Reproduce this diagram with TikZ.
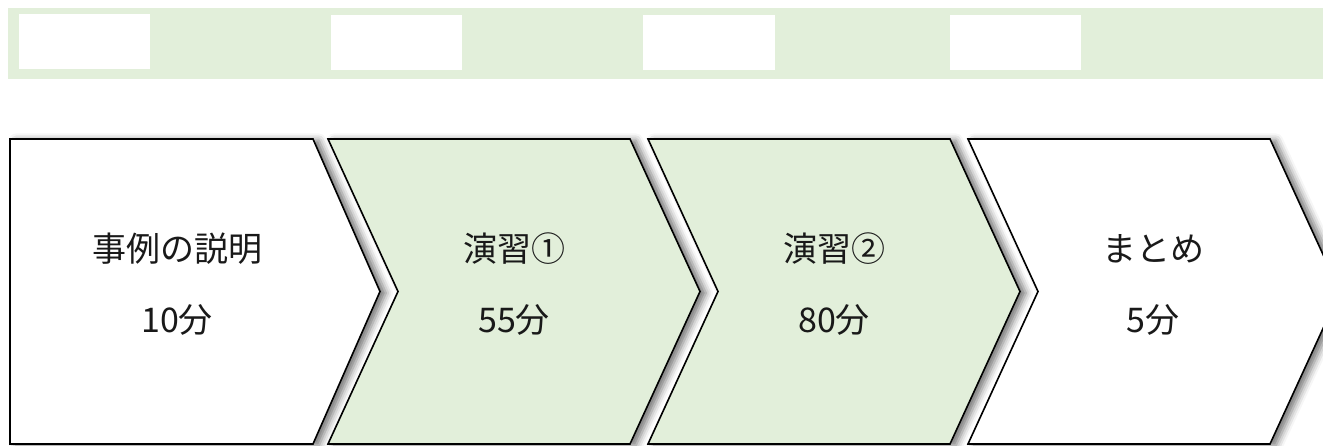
\documentclass[tikz,border=0pt]{standalone}
\usepackage{fontspec}
\newfontfamily\jpfont{Noto Sans CJK JP}
\usetikzlibrary{shadows.blur}
\definecolor{bandgreen}{HTML}{E2EFDA}
\tikzset{
  stage/.style={draw=black, line width=1.6pt, line join=miter,
    blur shadow={shadow xshift=6pt, shadow yshift=-1.5pt,
      shadow blur radius=7pt, shadow opacity=55}},
  stagetext/.style={anchor=base, text=black!90, inner sep=0pt}
}
\begin{document}
\begin{tikzpicture}[x=1pt, y=1pt]
            \useasboundingbox (0,0) rectangle (1323,446);%

            % Drawing band at top
            \fill [bandgreen] (8,367) rectangle (1323,438);%

            % Drawing blank boxes in band
            \fill [white] (19,377) rectangle (150,432);%
            \fill [white] (331,376) rectangle (462,431);%
            \fill [white] (643,376) rectangle (775,431);%
            \fill [white] (950,376) rectangle (1081,431);%

            % Drawing stage 1 (pentagon)
            \draw [stage, fill=white] (10,307) -- (313,307) -- (380,154.5)
              -- (313,2) -- (10,2) -- cycle;%

            % Drawing stage 2 (chevron)
            \draw [stage, fill=bandgreen] (328,307) -- (630,307) -- (700,154.5)
              -- (630,2) -- (328,2) -- (398,154.5) -- cycle;%

            % Drawing stage 3 (chevron)
            \draw [stage, fill=bandgreen] (648,307) -- (950,307) -- (1020,154.5)
              -- (950,2) -- (648,2) -- (718,154.5) -- cycle;%

            % Drawing stage 4 (chevron, tip cut by the page)
            \draw [stage, fill=white] (968,307) -- (1270,307) -- (1340,154.5)
              -- (1270,2) -- (968,2) -- (1038,154.5) -- cycle;%

            {\jpfont\fontsize{34}{40}\selectfont

            % Labels of stage 1
            \node [stagetext] (jirei) at (177,184) {事例の説明};%
            \node [stagetext] (jirei time) at (177,113) {10分};%

            % Labels of stage 2
            \node [stagetext] (ensyu one) at (514,184) {演習①};%
            \node [stagetext] (ensyu one time) at (514,113) {55分};%

            % Labels of stage 3
            \node [stagetext] (ensyu two) at (834,184) {演習②};%
            \node [stagetext] (ensyu two time) at (834,113) {80分};%

            % Labels of stage 4
            \node [stagetext] (matome) at (1153,184) {まとめ};%
            \node [stagetext] (matome time) at (1153,113) {5分};%
            }
\end{tikzpicture}
\end{document}
